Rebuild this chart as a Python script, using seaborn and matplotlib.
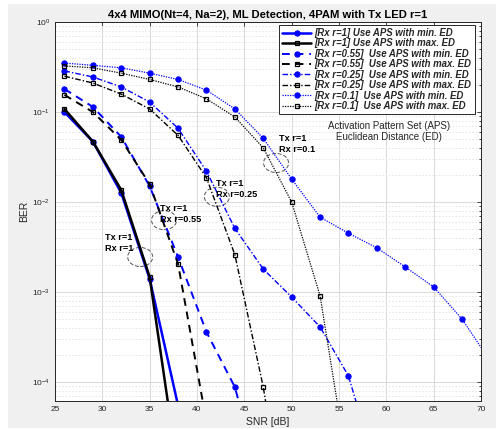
import numpy as np
import pandas as pd
import seaborn as sns
import matplotlib
matplotlib.use("Agg")
import matplotlib.pyplot as plt
from matplotlib.patches import Ellipse, Rectangle
from matplotlib.ticker import LogLocator, NullFormatter

# ---------------- data ----------------
snr_r1 = [26, 29, 32, 35, 38]
ber_r1_min = [0.100, 0.047, 0.0126, 0.0014, 5.5e-5]
ber_r1_max = [0.108, 0.047, 0.0136, 0.00147, 1.0e-5]

snr_r055_min = [26, 29, 32, 35, 38, 41, 44, 47]
ber_r055_min = [0.18, 0.114, 0.053, 0.015, 0.00245, 3.6e-4, 8.8e-5, 6e-6]
snr_r055_max = [26, 29, 32, 35, 38, 41]
ber_r055_max = [0.155, 0.100, 0.049, 0.0158, 0.00205, 3.6e-5]

snr_r025_min = [26, 29, 32, 35, 38, 41, 44, 47, 50, 53, 56, 59]
ber_r025_min = [0.286, 0.245, 0.19, 0.129, 0.066, 0.022, 0.0051, 0.0018,
                8.8e-4, 4.1e-4, 1.17e-4, 1.0e-5]
snr_r025_max = [26, 29, 32, 35, 38, 41, 44, 47, 50]
ber_r025_max = [0.25, 0.21, 0.158, 0.108, 0.055, 0.0186, 0.0026, 8.8e-5, 1e-6]

snr_r01_min = [26, 29, 32, 35, 38, 41, 44, 47, 50, 53, 56, 59, 62, 65, 68, 71]
ber_r01_min = [0.35, 0.33, 0.31, 0.27, 0.23, 0.175, 0.108, 0.051, 0.018,
               0.0068, 0.0045, 0.0031, 0.0019, 0.00114, 5.0e-4, 1.7e-4]
snr_r01_max = [26, 29, 32, 35, 38, 41, 44, 47, 50, 53, 56]
ber_r01_max = [0.325, 0.31, 0.27, 0.23, 0.19, 0.14, 0.088, 0.040, 0.010,
               9.1e-4, 1.0e-5]

labels = [
    "[Rx r=1] Use APS with min. ED",
    "[Rx r=1] Use APS with max. ED",
    "[Rx r=0.55]  Use APS with min. ED",
    "[Rx r=0.55]  Use APS with max. ED",
    "[Rx r=0.25]  Use APS with min. ED",
    "[Rx r=0.25]  Use APS with max. ED",
    "[Rx r=0.1]  Use APS with min. ED",
    "[Rx r=0.1]  Use APS with max. ED",
]

ann_texts = ["Tx r=1\nRx r=1", "Tx r=1\nRx r=0.55", "Tx r=1\nRx r=0.25", "Tx r=1\nRx r=0.1"]
ann_x = [30.3, 36.1, 42.0, 48.7]
ann_y = [3.5e-3, 7.3e-3, 1.4e-2, 4.4e-2]

title = "4x4 MIMO(Nt=4, Na=2), ML Detection, 4PAM with Tx LED r=1"
xticks = [25, 30, 35, 40, 45, 50, 55, 60, 65, 70]

# ---------------- style ----------------
sns.set_style("white")
plt.rcParams["font.family"] = ["Liberation Sans", "DejaVu Sans"]

fig = plt.figure(figsize=(4.96, 4.29), dpi=100)
fig.patch.set_facecolor("white")
fig.patches.append(Rectangle((8 / 496, 1 / 429), 488 / 496, 424 / 429,
                             transform=fig.transFigure, facecolor="#f0f0f0",
                             edgecolor="none", zorder=-10))
ax = fig.add_axes([55 / 496, 28 / 429, 426 / 496, 379 / 429])
ax.set_facecolor("white")

series = [
    (snr_r1, ber_r1_min, "blue", "-", "o", 1.8),
    (snr_r1, ber_r1_max, "black", "-", "s", 1.8),
    (snr_r055_min, ber_r055_min, "blue", (0, (4, 3)), "o", 1.4),
    (snr_r055_max, ber_r055_max, "black", (0, (4, 3)), "s", 1.4),
    (snr_r025_min, ber_r025_min, "blue", (0, (4, 1.5, 1, 1.5)), "o", 1.0),
    (snr_r025_max, ber_r025_max, "black", (0, (4, 1.5, 1, 1.5)), "s", 1.0),
    (snr_r01_min, ber_r01_min, "blue", (0, (1, 1)), "o", 0.9),
    (snr_r01_max, ber_r01_max, "black", (0, (1, 1)), "s", 0.9),
]

for (x, y, c, ls, mk, lw), lab in zip(series, labels):
    df = pd.DataFrame({"SNR": x, "BER": y})
    if mk == "o":
        mkw = dict(marker="o", markersize=3.8, markerfacecolor=c, markeredgecolor=c)
    else:
        mkw = dict(marker="s", markersize=3.4, markerfacecolor="none",
                   markeredgecolor=c, markeredgewidth=0.9)
    sns.lineplot(data=df, x="SNR", y="BER", ax=ax, color=c, linestyle=ls,
                 linewidth=lw, label=lab, estimator=None, sort=False, **mkw)

ax.set_yscale("log")
ax.set_xlim(25, 70)
ax.set_ylim(10 ** -4.21, 1)
ax.set_xticks(xticks)
ax.yaxis.set_major_locator(LogLocator(base=10, numticks=10))
ax.yaxis.set_minor_locator(LogLocator(base=10, subs=np.arange(2, 10), numticks=50))
ax.yaxis.set_minor_formatter(NullFormatter())

ax.grid(True, which="major", color="#d9d9d9", linewidth=0.7)
ax.grid(True, which="minor", axis="y", color="#e3e3e3", linestyle=(0, (2, 2)), linewidth=0.6)
ax.set_axisbelow(True)

ax.tick_params(axis="both", which="both", direction="in", colors="#262626",
               labelsize=6, top=True, right=True, length=3, width=0.6)
ax.tick_params(axis="both", which="minor", length=1.8)
for sp in ax.spines.values():
    sp.set_color("#262626")
    sp.set_linewidth(0.7)

ax.set_xlabel("SNR [dB]", fontsize=7.5, color="#262626", labelpad=3)
ax.set_ylabel("BER", fontsize=7.5, color="#262626", labelpad=2)
ax.set_title(title, fontsize=8.1, fontweight="bold", color="black", pad=3)

leg = ax.legend(loc="upper right", bbox_to_anchor=(0.9895, 0.997),
                prop={"size": 6.9, "weight": "bold", "style": "italic"},
                handlelength=3.0, labelspacing=0.05, borderpad=0.3,
                handletextpad=0.4, fancybox=False, framealpha=1,
                edgecolor="#262626", borderaxespad=0.2)
leg.get_frame().set_linewidth(0.7)

# annotations
for t, xx, yy in zip(ann_texts, ann_x, ann_y):
    ax.text(xx, yy, t, fontsize=6.6, fontweight="bold", color="black",
            ha="left", va="center", linespacing=1.3)

ell_centers = [(0.200, 0.380), (0.256, 0.477), (0.380, 0.539), (0.519, 0.628)]
for cx, cy in ell_centers:
    ax.add_patch(Ellipse((cx, cy), 25 / 426, 19 / 379, transform=ax.transAxes,
                         fill=False, edgecolor="#555555", linestyle=(0, (4, 2)),
                         linewidth=0.7))

ax.text(0.785, 0.725, "Activation Pattern Set (APS)", transform=ax.transAxes,
        fontsize=7, ha="center", va="center", color="#262626")
ax.text(0.785, 0.696, "Euclidean Distance (ED)", transform=ax.transAxes,
        fontsize=7, ha="center", va="center", color="#262626")

fig.savefig("out.png", dpi=100, facecolor=fig.get_facecolor())
